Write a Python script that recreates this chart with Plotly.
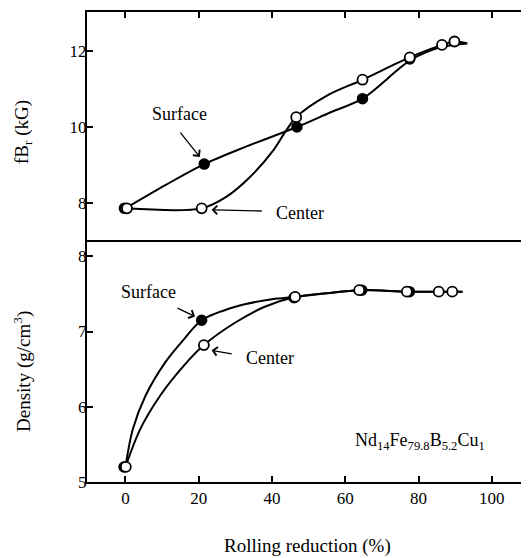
import plotly.graph_objects as go

# ---------------- data ----------------
# Top panel: fBr (kG) vs rolling reduction (%)
top_surf_x = [-0.3, 21.5, 46.8, 64.7, 77.6]
top_surf_y = [7.85, 9.02, 10.0, 10.75, 11.8]
top_cent_x = [0.4, 20.8, 46.6, 64.7, 77.6, 86.4, 89.8]
top_cent_y = [7.85, 7.85, 10.26, 11.25, 11.84, 12.17, 12.26]
# points
top_surf_curve_x = [0, 11, 21.5, 32.6, 46.8, 56, 64.7, 78, 86.4, 93.3]
top_surf_curve_y = [7.85, 8.47, 9.02, 9.47, 10.0, 10.39, 10.75, 11.78, 12.12, 12.21]
top_cent_curve_x = [0, 20.8, 27.6, 34, 40.4, 43.6, 46.6, 55, 64.7, 77.6, 86.4, 89.8, 93.3]
top_cent_curve_y = [7.85, 7.85, 8.16, 8.68, 9.39, 9.87, 10.26, 10.83, 11.25, 11.84, 12.17, 12.26, 12.21]

# Bottom panel: Density (g/cm3) vs rolling reduction (%)
bot_surf_x = [-0.4, 20.8, 46.0, 64.5, 77.5]
bot_surf_y = [5.2, 7.15, 7.45, 7.55, 7.53]
bot_cent_x = [0.1, 21.4, 46.3, 63.8, 76.8, 85.5, 89.2]
bot_cent_y = [5.2, 6.82, 7.46, 7.55, 7.53, 7.53, 7.53]
bot_surf_curve_x = [0, 2, 5.5, 11, 16, 20.8, 30, 40, 46.3, 55, 64, 77, 86, 92]
bot_surf_curve_y = [5.2, 5.7, 6.15, 6.6, 6.9, 7.15, 7.33, 7.43, 7.46, 7.51, 7.55, 7.53, 7.53, 7.53]
bot_cent_curve_x = [0, 4, 9.5, 16, 21.4, 30, 38, 46.3, 55, 64, 77, 86, 92]
bot_cent_curve_y = [5.2, 5.7, 6.15, 6.55, 6.82, 7.12, 7.33, 7.46, 7.51, 7.55, 7.53, 7.53, 7.53]

x_ticks = [0, 20, 40, 60, 80, 100]
top_y_ticks = [8, 10, 12]
bot_y_ticks = [5, 6, 7, 8]

# ---------------- figure ----------------
FONT = "'Liberation Serif', 'Times New Roman', serif"
fig = go.Figure()

line_style = dict(color="black", width=2, shape="spline", smoothing=0.9)
filled = dict(symbol="circle", size=10, color="black", line=dict(color="black", width=1.5))
opened = dict(symbol="circle", size=10, color="white", line=dict(color="black", width=1.8))

# top panel (x2, y2)
fig.add_trace(go.Scatter(x=top_surf_curve_x, y=top_surf_curve_y, mode="lines",
                         line=line_style, xaxis="x2", yaxis="y2", showlegend=False, name="Surface"))
fig.add_trace(go.Scatter(x=top_cent_curve_x, y=top_cent_curve_y, mode="lines",
                         line=line_style, xaxis="x2", yaxis="y2", showlegend=False, name="Center"))
fig.add_trace(go.Scatter(x=top_surf_x, y=top_surf_y, mode="markers", marker=filled,
                         xaxis="x2", yaxis="y2", showlegend=False, name="Surface"))
fig.add_trace(go.Scatter(x=top_cent_x, y=top_cent_y, mode="markers", marker=opened,
                         xaxis="x2", yaxis="y2", showlegend=False, name="Center"))

# bottom panel (x, y)
fig.add_trace(go.Scatter(x=bot_surf_curve_x, y=bot_surf_curve_y, mode="lines",
                         line=line_style, showlegend=False, name="Surface"))
fig.add_trace(go.Scatter(x=bot_cent_curve_x, y=bot_cent_curve_y, mode="lines",
                         line=line_style, showlegend=False, name="Center"))
fig.add_trace(go.Scatter(x=bot_surf_x, y=bot_surf_y, mode="markers", marker=filled,
                         showlegend=False, name="Surface"))
fig.add_trace(go.Scatter(x=bot_cent_x, y=bot_cent_y, mode="markers", marker=opened,
                         showlegend=False, name="Center"))

XR = [-10.5, 109.6]
axis_common = dict(showline=True, linecolor="black", linewidth=2, mirror=True,
                   ticks="inside", ticklen=6, tickwidth=1.5, tickcolor="black",
                   showgrid=False, zeroline=False, automargin=False,
                   tickfont=dict(family=FONT, size=17, color="black"))
yaxis_common = {**axis_common, "mirror": "ticks", "ticklabelstandoff": -5}

# the page body adds an 8 px offset, so the figure is sized to land the frame
# where the reference has it
fig.update_layout(
    template="none",
    width=521, height=550,
    margin=dict(l=79, r=2, t=4, b=76, autoexpand=False),
    paper_bgcolor="white", plot_bgcolor="white",
    font=dict(family=FONT, color="black"),
    xaxis=dict(**{**axis_common, "mirror": False}, range=XR, tickvals=x_ticks, anchor="y"),
    yaxis=dict(**yaxis_common, range=[5, 8.22], tickvals=bot_y_ticks,
               domain=[0, 0.5154], anchor="x"),
    xaxis2=dict(**axis_common, range=XR, tickvals=x_ticks, side="top", showticklabels=False,
                anchor="y2"),
    yaxis2=dict(**yaxis_common, range=[7.02, 13.04], tickvals=top_y_ticks,
                domain=[0.5154, 1], anchor="x2"),
)

txt = dict(family=FONT, size=18, color="black")
title_font = dict(family=FONT, size=19, color="black")
arrow = dict(text="", showarrow=True, arrowhead=4, arrowsize=1.3, arrowwidth=1.3, arrowcolor="black")

annotations = [
    # axis titles
    dict(x=0.5, y=-0.137, xref="paper", yref="paper", text="Rolling reduction (%)",
         showarrow=False, font=title_font, xanchor="center", yanchor="middle"),
    dict(x=-0.145, y=0.745, xref="paper", yref="paper", text="fB<sub>r</sub> (kG)",
         showarrow=False, font=title_font, textangle=-90, xanchor="center", yanchor="middle"),
    dict(x=-0.148, y=0.236, xref="paper", yref="paper", text="Density (g/cm<sup>3</sup>)",
         showarrow=False, font=title_font, textangle=-90, xanchor="center", yanchor="middle"),
    # top panel
    dict(x=14.85, y=10.35, xref="x2", yref="y2", text="Surface", showarrow=False, font=txt),
    dict(x=20.3, y=9.21, ax=14.66, ay=9.89, xref="x2", yref="y2", axref="x2", ayref="y2", **arrow),
    dict(x=47.7, y=7.72, xref="x2", yref="y2", text="Center", showarrow=False, font=txt),
    dict(x=23.5, y=7.81, ax=37.6, ay=7.78, xref="x2", yref="y2", axref="x2", ayref="y2", **arrow),
    # bottom panel
    dict(x=6.2, y=7.52, xref="x", yref="y", text="Surface", showarrow=False, font=txt),
    dict(x=19.0, y=7.20, ax=13.8, ay=7.32, xref="x", yref="y", axref="x", ayref="y", **arrow),
    dict(x=39.5, y=6.65, xref="x", yref="y", text="Center", showarrow=False, font=txt),
    dict(x=23.5, y=6.75, ax=29.4, ay=6.70, xref="x", yref="y", axref="x", ayref="y", **arrow),
    dict(x=80.5, y=5.54, xref="x", yref="y",
         text="Nd<sub>14</sub>Fe<sub>79.8</sub>B<sub>5.2</sub>Cu<sub>1</sub>",
         showarrow=False, font=txt),
]
fig.update_layout(annotations=annotations)

fig.write_html("out.html")
